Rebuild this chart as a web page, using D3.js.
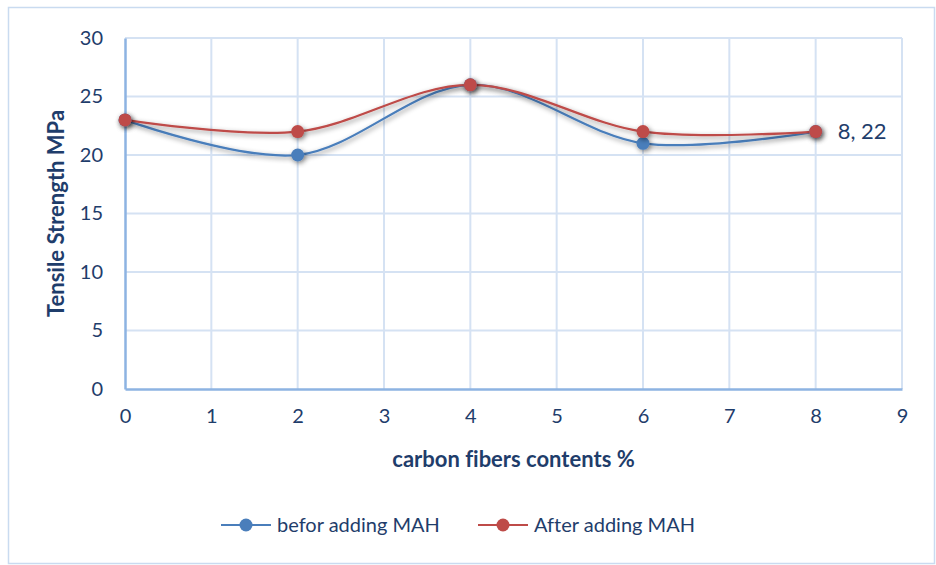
<!DOCTYPE html>
<html>
<head>
<meta charset="utf-8">
<script src="https://cdn.jsdelivr.net/npm/d3@7"></script>
<style>
  body { margin: 0; background: #fff; }
  #chart { width: 936px; height: 565px; }
  text { font-family: Lato, "Open Sans", sans-serif; fill: #1f3d6b; font-variant-ligatures: none; }
</style>
</head>
<body>
<div id="chart"></div>
<script>
// data
var contents = [0, 2, 4, 6, 8];
var beforeMAH = [23, 20, 26, 21, 22];
var afterMAH = [23, 22, 26, 22, 22];
var xTicks = [0, 1, 2, 3, 4, 5, 6, 7, 8, 9];
var yTicks = [0, 5, 10, 15, 20, 25, 30];
var seriesNames = ["befor adding MAH", "After adding MAH"];
var seriesColors = ["#4a7ebb", "#be4b48"];

var width = 936, height = 565;
var margin = {left: 125, right: 34, top: 38, bottom: 176};

var svg = d3.select("#chart").append("svg")
	.attr("width", width)
	.attr("height", height);

// shadow under markers
var defs = svg.append("defs");
var f = defs.append("filter").attr("id", "shadow")
	.attr("x", "-50%").attr("y", "-50%").attr("width", "200%").attr("height", "200%");
f.append("feDropShadow").attr("dx", 1.5).attr("dy", 2).attr("stdDeviation", 2.5)
	.attr("flood-color", "#000").attr("flood-opacity", 0.45);

// outer frame
svg.append("rect")
	.attr("x", 8.5).attr("y", 7.5)
	.attr("width", 926).attr("height", 556)
	.attr("fill", "#fff").attr("stroke", "#c9dbf0").attr("stroke-width", 1.5);

var x = d3.scaleLinear().domain([0, 9]).range([margin.left, width - margin.right]);
var y = d3.scaleLinear().domain([0, 30]).range([height - margin.bottom, margin.top]);

// grid
var grid = svg.append("g");
grid.selectAll("line.v").data(xTicks.slice(1)).enter().append("line")
	.attr("x1", function(d){ return x(d); }).attr("x2", function(d){ return x(d); })
	.attr("y1", y(0)).attr("y2", y(30))
	.attr("stroke", "#d5e2f3").attr("stroke-width", 2);
grid.selectAll("line.h").data(yTicks.slice(1)).enter().append("line")
	.attr("x1", x(0)).attr("x2", x(9))
	.attr("y1", function(d){ return y(d); }).attr("y2", function(d){ return y(d); })
	.attr("stroke", "#d5e2f3").attr("stroke-width", 2);

// axes
var xAxis = svg.append("g")
	.attr("transform", "translate(0," + y(0) + ")")
	.call(d3.axisBottom(x).tickValues(xTicks).tickSize(0).tickPadding(20));
var yAxis = svg.append("g")
	.attr("transform", "translate(" + x(0) + ",0)")
	.call(d3.axisLeft(y).tickValues(yTicks).tickSize(0).tickPadding(22));
[xAxis, yAxis].forEach(function(a){
	a.select(".domain").attr("stroke", "#8db3e2").attr("stroke-width", 2.5);
	a.selectAll("text").style("font-size", "20px").attr("fill", "#1f3d6b")
		.style("font-family", "Lato, sans-serif");
});
xAxis.selectAll("text").attr("dy", "0.72em");

// axis titles
svg.append("text")
	.attr("x", (x(0) + x(9)) / 2).attr("y", 467)
	.attr("text-anchor", "middle")
	.style("font-size", "22px").style("font-weight", "bold")
	.text("carbon fibers contents %");
svg.append("text")
	.attr("transform", "translate(64," + ((y(0) + y(30)) / 2) + ") rotate(-90)")
	.attr("text-anchor", "middle")
	.style("font-size", "22px").style("font-weight", "bold")
	.text("Tensile Strength MPa");

// lines + markers
var line = d3.line()
	.x(function(d){ return x(d[0]); })
	.y(function(d){ return y(d[1]); })
	.curve(d3.curveCatmullRom.alpha(0));

var series = [beforeMAH, afterMAH];
series.forEach(function(vals, i){
	var pts = contents.map(function(c, j){ return [c, vals[j]]; });
	svg.append("path")
		.datum(pts)
		.attr("d", line)
		.attr("fill", "none")
		.attr("stroke", seriesColors[i])
		.attr("stroke-width", 2.2)
		.attr("filter", "url(#shadow)");
});
series.forEach(function(vals, i){
	var pts = contents.map(function(c, j){ return [c, vals[j]]; });
	svg.append("g").selectAll("circle").data(pts).enter().append("circle")
		.attr("cx", function(d){ return x(d[0]); })
		.attr("cy", function(d){ return y(d[1]); })
		.attr("r", 6.5)
		.attr("fill", seriesColors[i])
		.attr("filter", "url(#shadow)");
});

// data label at the last point
var last = contents.length - 1;
svg.append("text")
	.attr("x", x(contents[last]) + 22).attr("y", y(afterMAH[last]))
	.attr("dy", "0.35em")
	.style("font-size", "22px")
	.text(contents[last] + ", " + afterMAH[last]);

// legend
var legendX = [221, 478];
seriesNames.forEach(function(name, i){
	var g = svg.append("g").attr("transform", "translate(" + legendX[i] + ",525)");
	g.append("line").attr("x1", 0).attr("x2", 50).attr("y1", 0).attr("y2", 0)
		.attr("stroke", seriesColors[i]).attr("stroke-width", 2.2);
	g.append("circle").attr("cx", 25).attr("cy", 0).attr("r", 6.5)
		.attr("fill", seriesColors[i]);
	g.append("text").attr("x", 56).attr("dy", "0.35em")
		.style("font-size", "20px")
		.text(name);
});
</script>
</body>
</html>
